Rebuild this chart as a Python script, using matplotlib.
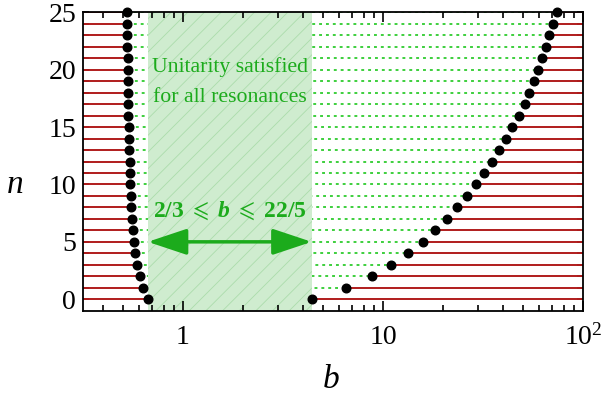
import numpy as np
import matplotlib
matplotlib.use("Agg")
import matplotlib.pyplot as plt
from matplotlib.ticker import FixedLocator, FixedFormatter, NullFormatter

plt.rcParams['font.family'] = ['Liberation Serif', 'DejaVu Serif']
plt.rcParams['mathtext.fontset'] = 'custom'
plt.rcParams['mathtext.rm'] = 'Liberation Serif'
plt.rcParams['mathtext.it'] = 'Liberation Serif:italic'
plt.rcParams['mathtext.bf'] = 'Liberation Serif:bold'
plt.rcParams['mathtext.bfit'] = 'Liberation Serif:italic:bold'
plt.rcParams['mathtext.fallback'] = 'stix'
plt.rcParams['hatch.linewidth'] = 0.6

# data
n_vals = list(range(26))
b_left = [0.667, 0.629, 0.607, 0.587, 0.573, 0.566, 0.560, 0.554, 0.551, 0.547,
          0.545, 0.543, 0.541, 0.539, 0.537, 0.535, 0.533, 0.532, 0.531, 0.530,
          0.529, 0.528, 0.527, 0.526, 0.525, 0.524]
b_right = [4.42, 6.55, 8.77, 11.0, 13.4, 15.85, 18.3, 20.9, 23.4, 26.3,
           29.2, 32.0, 35.1, 38.1, 41.2, 44.3, 47.9, 51.3, 53.7, 56.6,
           59.6, 62.6, 65.3, 67.9, 71.0, 74.1]
b_low, b_high = 2/3, 22/5
x_min, x_max = 10**-0.5, 100
y_ticks = [0, 5, 10, 15, 20, 25]
x_major = [1, 10, 100]
x_major_labels = ['1', '10', r'$10^2$']

red = '#b01c1c'
green_dot = '#2ecb2e'
green_txt = '#1cab1c'
shade_face = '#cfeccf'
shade_hatch = '#acdcac'

fig = plt.figure(figsize=(6.05, 4.04), dpi=100)
ax = fig.add_axes([83/605, 1-310.7/404, 500/605, 298.4/404])
ax.set_xscale('log')
ax.set_xlim(x_min, x_max)
ax.set_ylim(-1, 25)

for n, bl, br in zip(n_vals, b_left, b_right):
    ax.plot([x_min, bl], [n, n], color=red, lw=1.4, zorder=2, solid_capstyle='butt')
    ax.plot([br, x_max], [n, n], color=red, lw=1.4, zorder=2, solid_capstyle='butt')
    ax.plot([bl, br], [n, n], color=green_dot, lw=1.3, dashes=(1.6, 2.2), zorder=1)

ax.axvspan(b_low, b_high, facecolor=shade_face, edgecolor=shade_hatch, hatch='//',
           linewidth=0, zorder=1.5)

ax.plot(b_left, n_vals, 'o', color='black', ms=6.2, zorder=4, clip_on=False)
ax.plot(b_right, n_vals, 'o', color='black', ms=6.2, zorder=4, clip_on=False)

xc = np.sqrt(b_low * b_high)
ax.text(xc, 20.2, 'Unitarity satisfied', color=green_txt, fontsize=15.7,
        ha='center', va='center', zorder=5)
ax.text(xc, 17.6, 'for all resonances', color=green_txt, fontsize=15.7,
        ha='center', va='center', zorder=5)
ax.text(xc, 7.7, r'$\mathbf{2/3}\ \leqslant\ \mathbfit{b}\ \leqslant\ \mathbf{22/5}$',
        color=green_txt, fontsize=17, ha='center', va='center', zorder=5)
ax.annotate('', xy=(b_low, 5), xytext=(b_high, 5),
            arrowprops=dict(arrowstyle='<|-|>,head_length=1.2,head_width=0.4',
                            color=green_txt, lw=2.5, shrinkA=0, shrinkB=0,
                            mutation_scale=20), zorder=5)

ax.xaxis.set_major_locator(FixedLocator(x_major))
ax.xaxis.set_major_formatter(FixedFormatter(x_major_labels))
minor = [m * 10.0**e for e in (-1, 0, 1) for m in range(2, 10)]
minor = [v for v in minor if x_min <= v <= x_max]
ax.xaxis.set_minor_locator(FixedLocator(minor))
ax.xaxis.set_minor_formatter(NullFormatter())
ax.yaxis.set_major_locator(FixedLocator(y_ticks))
ax.yaxis.set_minor_locator(FixedLocator(n_vals))

ax.tick_params(which='both', direction='in', top=True, right=True, width=1.2, color='black')
ax.tick_params(which='major', length=7)
ax.tick_params(which='minor', length=4.5)
ax.tick_params(axis='y', which='both', length=4.5)
ax.tick_params(axis='x', which='major', labelsize=20, pad=10)
ax.tick_params(axis='y', which='major', labelsize=20, pad=5)
for s in ax.spines.values():
    s.set_linewidth(1.3)
    s.set_zorder(6)

fig.text(15/605, 1-185/404, 'n', fontsize=24, style='italic', ha='center', va='center')
fig.text(331/605, 1-380/404, 'b', fontsize=24, style='italic', ha='center', va='center')

fig.savefig('out.png', dpi=100)
